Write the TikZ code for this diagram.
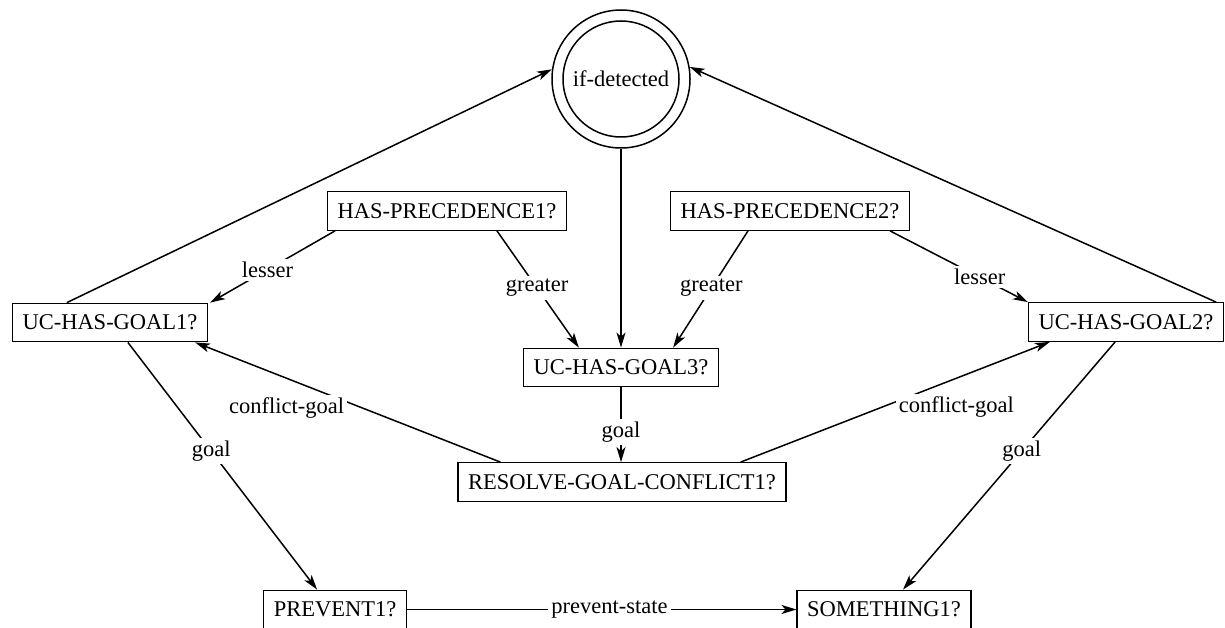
\documentclass[tikz,border=0pt]{standalone}
\usepackage{fontspec}
\setmainfont{Liberation Serif}
\usetikzlibrary{arrows.meta,calc}
\begin{document}
\begin{tikzpicture}[x=1pt,y=-1pt,
  every node/.style={font=\fontsize{22.5}{27}\selectfont},
  box/.style={draw, line width=1.3pt, inner xsep=10pt, inner ysep=11.5pt, text height=15pt, text depth=0.5pt},
  lbl/.style={fill=white, inner sep=3pt},
  conn/.style={line width=1.5pt, -{Stealth[length=15pt,width=9pt,inset=4pt]}},
  ring/.style={circle, draw, line width=1.5pt, inner sep=0pt}
]
\useasboundingbox (0,0) rectangle (1225,628);
\node[ring, minimum size=138pt] (circ) at (621,79) {};
\node[ring, minimum size=116pt] (circin) at (circ.center) {if-detected};
\node[box] (hp1) at (447,211) {HAS-PRECEDENCE1?};
\node[box] (hp2) at (790,211) {HAS-PRECEDENCE2?};
\node[box] (ucg1) at (110,322.5) {UC-HAS-GOAL1?};
\node[box] (ucg2) at (1126,322) {UC-HAS-GOAL2?};
\node[box] (ucg3) at (621,367.5) {UC-HAS-GOAL3?};
\node[box] (rgc) at (622,482) {RESOLVE-GOAL-CONFLICT1?};
\node[box] (prev) at (335,609.5) {PREVENT1?};
\node[box] (some) at (884,609.5) {SOMETHING1?};

\draw[conn] ([xshift=55pt]ucg1.north west) -- (circ.172);
\draw[conn] ([xshift=-8pt]ucg2.north east) -- (circ.10);
\draw[conn] (circ.south) -- (circ.south |- ucg3.north);
\draw[conn] ([xshift=8pt]hp1.south west) -- node[lbl,pos=0.54]{lesser} ([xshift=2pt]ucg1.north east);
\draw[conn] ([xshift=170pt]hp1.south west) -- node[lbl,pos=0.49]{greater} ([xshift=56pt]ucg3.north west);
\draw[conn] ([xshift=78pt]hp2.south west) -- node[lbl,pos=0.49]{greater} ([xshift=-46pt]ucg3.north east);
\draw[conn] ([xshift=-20pt]hp2.south east) -- node[lbl,pos=0.65]{lesser} (ucg2.north west);
\draw[conn] ([xshift=43pt]rgc.north west) -- node[lbl,pos=0.5,anchor=east,yshift=-6pt]{conflict-goal} ([xshift=-13pt]ucg1.south east);
\draw[conn] ([xshift=-46pt]rgc.north east) -- node[lbl,pos=0.5,anchor=west,yshift=-5pt]{conflict-goal} ([xshift=22pt]ucg2.south west);
\draw[conn] (ucg3.south) -- node[lbl,pos=0.6]{goal} (ucg3.south |- rgc.north);
\draw[conn] ([xshift=116pt]ucg1.south west) -- node[lbl,pos=0.44]{goal} ([xshift=54pt]prev.north west);
\draw[conn] ([xshift=-109pt]ucg2.south east) -- node[lbl,pos=0.44]{goal} ([xshift=19pt]some.north);
\draw[conn] (prev.east) -- node[lbl,pos=0.52]{prevent-state} (some.west);
\end{tikzpicture}
\end{document}
